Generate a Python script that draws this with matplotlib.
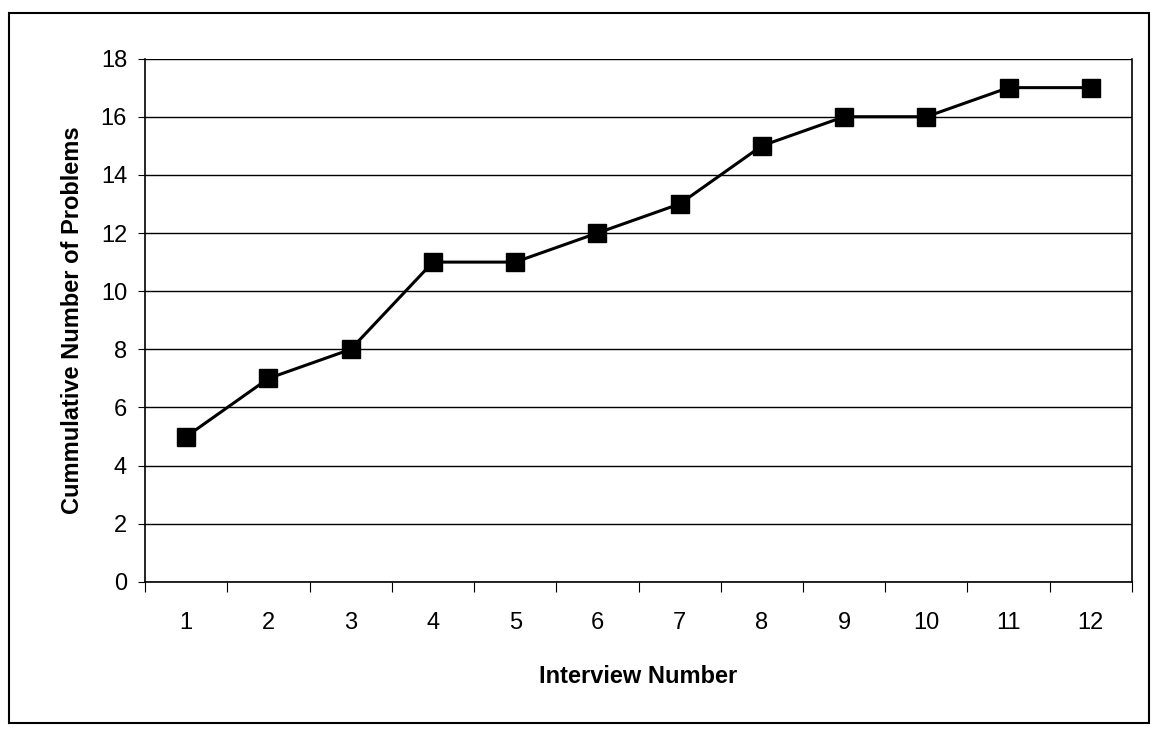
import matplotlib.pyplot as plt
from matplotlib.patches import Rectangle

# Data
interviews = [1, 2, 3, 4, 5, 6, 7, 8, 9, 10, 11, 12]
cumulative = [5, 7, 8, 11, 11, 12, 13, 15, 16, 16, 17, 17]

plt.rcParams['font.family'] = ['Liberation Sans', 'DejaVu Sans']

fig = plt.figure(figsize=(11.61, 7.32), dpi=100)
ax = fig.add_axes([0.125, 0.205, 0.85, 0.715])

# Outer chart border
fig.patches.append(Rectangle((0.008, 0.012), 0.982, 0.97, transform=fig.transFigure,
                             fill=False, edgecolor='black', linewidth=1.5))

ax.plot(interviews, cumulative, color='black', linewidth=2.2, marker='s',
        markersize=13, markerfacecolor='black', markeredgecolor='black')

ax.set_xlim(0.5, 12.5)
ax.set_ylim(0, 18)
ax.set_yticks(range(0, 19, 2))
ax.grid(axis='y', color='black', linewidth=1)
ax.set_axisbelow(True)

# Excel-style category axis: ticks between categories, labels centered
ax.set_xticks([i + 0.5 for i in range(0, 13)], minor=False)
ax.set_xticklabels([])
ax.set_xticks(interviews, minor=True)
ax.set_xticklabels([str(i) for i in interviews], minor=True, fontsize=17)
ax.tick_params(axis='x', which='minor', length=0, pad=22)
ax.tick_params(axis='x', which='major', length=7, direction='out')
ax.tick_params(axis='y', labelsize=17, length=5, pad=8)

ax.spines['top'].set_visible(False)
for side in ['left', 'bottom', 'right']:
    ax.spines[side].set_linewidth(1.2)

ax.set_xlabel('Interview Number', fontsize=17, fontweight='bold', labelpad=22)
ax.set_ylabel('Cummulative Number of Problems', fontsize=17, fontweight='bold', labelpad=12)

plt.savefig('out.png', dpi=100)
